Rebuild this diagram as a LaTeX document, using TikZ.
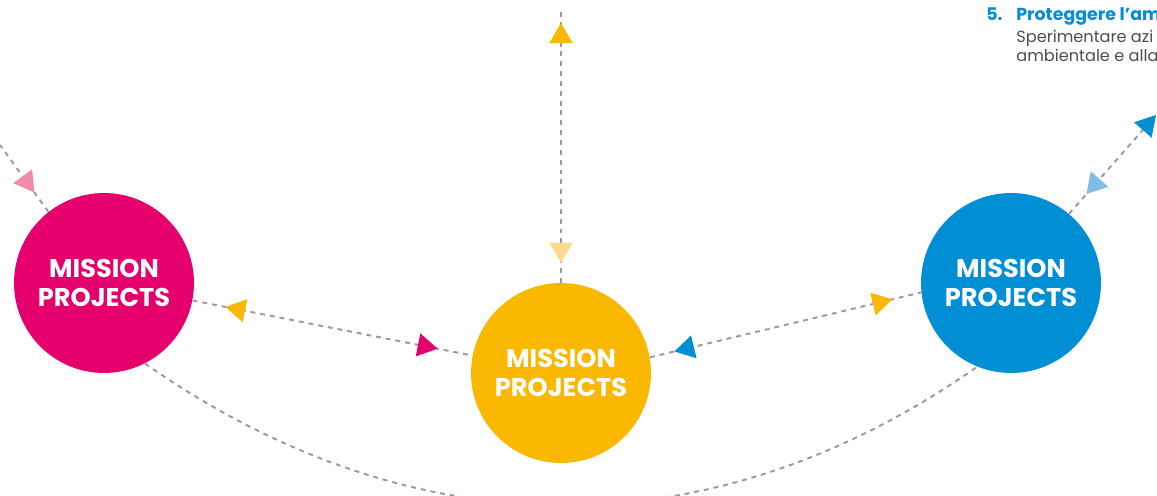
\documentclass[tikz,border=0pt]{standalone}
\usepackage{fontspec}
\setmainfont{Poppins}
\usetikzlibrary{arrows.meta,decorations.markings}

\definecolor{mpink}{HTML}{E5006D}
\definecolor{mgelb}{HTML}{FAB900}
\definecolor{mblau}{HTML}{008FD5}
\definecolor{hpink}{HTML}{F08CAA}
\definecolor{hgelb}{HTML}{FDD98C}
\definecolor{hblau}{HTML}{80BEEA}
\definecolor{linie}{HTML}{9A9A9A}
\definecolor{grautext}{HTML}{4D4D4D}

\begin{document}
\begin{tikzpicture}[x=0.02cm, y=0.02cm,
	kreis/.style={circle, minimum size=3.6cm, inner sep=0pt, text=white,
		align=center, font=\bfseries\fontsize{14.6}{17}\selectfont},
	pfad/.style={draw=linie, line width=1.1pt, dash pattern=on 2.8pt off 2.8pt},
	vor/.style 2 args={postaction={decorate, decoration={markings,
		mark=at position #1 with {\arrow[color=#2]{Triangle[length=0.4cm, width=0.46cm]}}}}},
	zurueck/.style 2 args={postaction={decorate, decoration={markings,
		mark=at position #1 with {\arrowreversed[color=#2]{Triangle[length=0.4cm, width=0.46cm]}}}}},
	klein/.style={anchor=base west, inner sep=0pt, text=grautext, font=\fontsize{9.2}{11}\selectfont},
	titelschrift/.style={anchor=base west, inner sep=0pt, text=mblau, font=\bfseries\fontsize{9.9}{11}\selectfont}
]
	\useasboundingbox (0,0) rectangle (1157,495);
	\clip (0,0) rectangle (1157,495);
	% Kreise
	\node[kreis, fill=mpink] (pink) at (104,212) {MISSION\\PROJECTS};
	\node[kreis, fill=mgelb] (gelb) at (561,122) {MISSION\\PROJECTS};
	\node[kreis, fill=mblau] (blau) at (1011,212) {MISSION\\PROJECTS};
	% freie Enden
	\coordinate (oben) at (561,485);
	\coordinate (links) at (0,350);
	\coordinate (rechts) at (1156,380);
	% Verbindungen
	\draw[pfad, zurueck={0.117}{mgelb}, vor={0.876}{mpink}] (pink) -- (gelb);
	\draw[pfad, zurueck={0.09}{mblau}, vor={0.894}{mgelb}] (gelb.10) -- (blau.186);
	\draw[pfad, zurueck={0.073}{hgelb}, vor={0.952}{mgelb}] (gelb) -- (oben);
	\draw[pfad, zurueck={0.29}{hpink}] (pink.128) -- (links);
	\draw[pfad, zurueck={0.2}{hblau}, -{Triangle[length=0.4cm, width=0.46cm, color=mblau]}]
		(blau.50) -- (rechts);
	\draw[pfad] (pink.-63) to[out=-35, in=-145] (blau.-112);
	% Text oben rechts
	\node[titelschrift] (nummer) at (986,475) {5.};
	\node[titelschrift] (titel) at (1016,475) {Proteggere l’am};
	\node[klein] (zeileA) at (1016,453) {Sperimentare azi};
	\node[klein] (zeileB) at (1016,434) {ambientale e alla};
\end{tikzpicture}
\end{document}
